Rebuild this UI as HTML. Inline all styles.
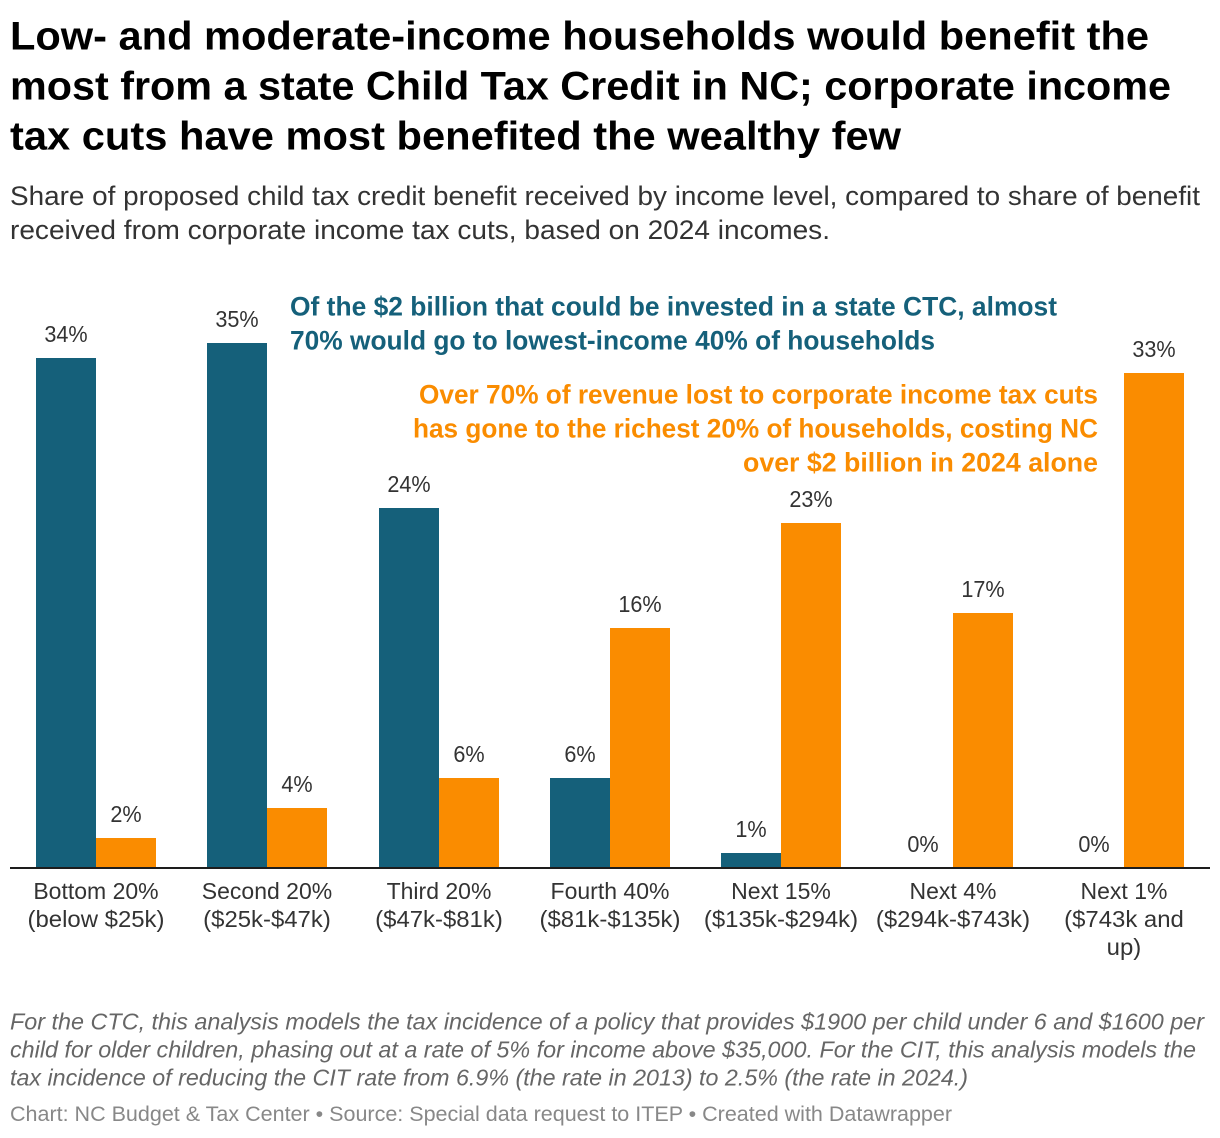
<!DOCTYPE html>
<html lang="en">
<head>
<meta charset="utf-8">
<title>Child Tax Credit vs corporate income tax cuts in NC</title>
<style>
html,body{margin:0;padding:0;background:#fff;}
body{width:1220px;height:1138px;overflow:hidden;}
svg{display:block;font-family:"Liberation Sans",Arial,sans-serif;}
</style>
</head>
<body>
<svg id="chart" xmlns="http://www.w3.org/2000/svg" width="1220" height="1138" viewBox="0 0 1220 1138">
  <g font-size="40" font-weight="700" fill="#000">
    <text x="10" y="49.5" textLength="1139" lengthAdjust="spacingAndGlyphs">Low- and moderate-income households would benefit the</text>
    <text x="10" y="99.5" textLength="1161" lengthAdjust="spacingAndGlyphs">most from a state Child Tax Credit in NC; corporate income</text>
    <text x="10" y="149.5" textLength="891" lengthAdjust="spacingAndGlyphs">tax cuts have most benefited the wealthy few</text>
  </g>
  <g font-size="26.5" fill="#333">
    <text x="10" y="205" textLength="1190" lengthAdjust="spacingAndGlyphs">Share of proposed child tax credit benefit received by income level, compared to share of benefit</text>
    <text x="10" y="239" textLength="820" lengthAdjust="spacingAndGlyphs">received from corporate income tax cuts, based on 2024 incomes.</text>
  </g>
  <g id="plot"></g>
  <g font-size="26.5" font-weight="700" fill="#15607a">
    <text x="290" y="315.5" textLength="767" lengthAdjust="spacingAndGlyphs">Of the $2 billion that could be invested in a state CTC, almost</text>
    <text x="290" y="349.5" textLength="645" lengthAdjust="spacingAndGlyphs">70% would go to lowest-income 40% of households</text>
  </g>
  <g font-size="26.5" font-weight="700" fill="#fa8c00">
    <text x="419" y="403.5" textLength="679" lengthAdjust="spacingAndGlyphs">Over 70% of revenue lost to corporate income tax cuts</text>
    <text x="413" y="437.5" textLength="685" lengthAdjust="spacingAndGlyphs">has gone to the richest 20% of households, costing NC</text>
    <text x="743" y="471.5" textLength="355" lengthAdjust="spacingAndGlyphs">over $2 billion in 2024 alone</text>
  </g>
  <g font-size="23" font-style="italic" fill="#666">
    <text x="10" y="1029.5" textLength="1194" lengthAdjust="spacingAndGlyphs">For the CTC, this analysis models the tax incidence of a policy that provides $1900 per child under 6 and $1600 per</text>
    <text x="10" y="1057.5" textLength="1186" lengthAdjust="spacingAndGlyphs">child for older children, phasing out at a rate of 5% for income above $35,000. For the CIT, this analysis models the</text>
    <text x="10" y="1085.5" textLength="958" lengthAdjust="spacingAndGlyphs">tax incidence of reducing the CIT rate from 6.9% (the rate in 2013) to 2.5% (the rate in 2024.)</text>
  </g>
  <text x="10" y="1121" font-size="21" fill="#888" textLength="942" lengthAdjust="spacingAndGlyphs">Chart: NC Budget &amp; Tax Center • Source: Special data request to ITEP • Created with Datawrapper</text>
</svg>
<script>
const incomeGroups = ["Bottom 20%", "Second 20%", "Third 20%", "Fourth 40%", "Next 15%", "Next 4%", "Next 1%"];
const incomeRanges = [["(below $25k)"], ["($25k-$47k)"], ["($47k-$81k)"], ["($81k-$135k)"], ["($135k-$294k)"], ["($294k-$743k)"], ["($743k and", "up)"]];
const ctcShare = [34, 35, 24, 6, 1, 0, 0];
const citShare = [2, 4, 6, 16, 23, 17, 33];

const NS = "http://www.w3.org/2000/svg";
const plot = document.getElementById("plot");
const zeroLine = 868;
const axisTop = 867;
const pxPerPoint = 15;
const barWidth = 60;
const xCenter = function (i) { return Math.round(96 + i * 171.33); };
const yValue = function (v) { return zeroLine - v * pxPerPoint; };

function drawText(content, x, y, squeeze) {
  const t = document.createElementNS(NS, "text");
  t.textContent = content;
  t.setAttribute("x", x);
  t.setAttribute("y", y);
  t.setAttribute("font-size", 23);
  t.setAttribute("fill", "#333");
  t.setAttribute("text-anchor", "middle");
  plot.appendChild(t);
  const natural = t.getComputedTextLength();
  t.setAttribute("textLength", (natural * squeeze).toFixed(1));
  t.setAttribute("lengthAdjust", "spacingAndGlyphs");
  return t;
}

function drawBar(series, i, value, x, color) {
  const r = document.createElementNS(NS, "rect");
  r.setAttribute("x", x);
  r.setAttribute("y", yValue(value));
  r.setAttribute("width", barWidth);
  r.setAttribute("height", zeroLine - yValue(value));
  r.setAttribute("fill", color);
  
  
  plot.appendChild(r);
  const label = drawText(value + "%", x + barWidth / 2, yValue(value) - 16, 0.94);
  
  
}

incomeGroups.forEach(function (group, i) {
  const c = xCenter(i);
  drawBar("ctc", i, ctcShare[i], c - barWidth, "#15607a");
  drawBar("cit", i, citShare[i], c, "#fa8c00");
  const head = drawText(group, c, 899, 1.0);
  
  
  incomeRanges[i].forEach(function (line, j) {
    const sub = drawText(line, c, 927 + j * 28, 1.04);
    
    
  });
});

const axis = document.createElementNS(NS, "rect");
axis.setAttribute("x", 10);
axis.setAttribute("y", axisTop);
axis.setAttribute("width", 1200);
axis.setAttribute("height", 2);
axis.setAttribute("fill", "#1d1d1d");


plot.appendChild(axis);
</script>
</body>
</html>
